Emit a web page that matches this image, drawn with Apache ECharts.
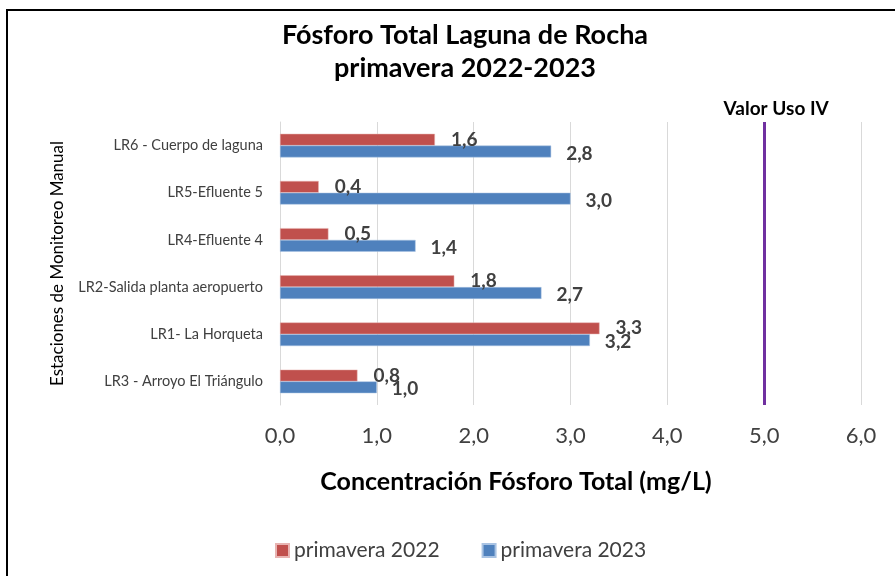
<!DOCTYPE html>
<html>
<head>
<meta charset="utf-8">
<title>Fósforo Total Laguna de Rocha</title>
<script src="https://cdn.jsdelivr.net/npm/echarts@6/dist/echarts.min.js"></script>
<style>
  html, body { margin: 0; padding: 0; background: #fff; }
  #chart { width: 895px; height: 576px; }
</style>
</head>
<body>
<div id="chart"></div>
<script>
// estaciones, de abajo hacia arriba
const stations = [
  'LR3 - Arroyo El Triángulo',
  'LR1- La Horqueta',
  'LR2-Salida planta aeropuerto',
  'LR4-Efluente 4',
  'LR5-Efluente 5',
  'LR6 - Cuerpo de laguna'
]
const spring2022 = [0.8, 3.3, 1.8, 0.5, 0.4, 1.6]
const spring2023 = [1.0, 3.2, 2.7, 1.4, 3.0, 2.8]
const usoIV = 5.0

const font = 'Lato, "Open Sans", sans-serif'
const comma = v => v.toFixed(1).replace('.', ',')

const chart = echarts.init(document.getElementById('chart'))
chart.setOption({
  backgroundColor: '#fff',
  textStyle: { fontFamily: font },
  title: [
    {
      text: 'Fósforo Total Laguna de Rocha\nprimavera 2022-2023',
      left: 460,
      top: 14,
      textAlign: 'center',
      textStyle: { fontSize: 27, fontWeight: 'bold', color: '#000', lineHeight: 33, fontFamily: font }
    },
    {
      text: 'Concentración Fósforo Total (mg/L)',
      left: 511,
      top: 464,
      textAlign: 'center',
      textStyle: { fontSize: 25, fontWeight: 'bold', color: '#000', fontFamily: font }
    }
  ],
  legend: {
    top: 535,
    left: 270,
    itemWidth: 13,
    itemHeight: 13,
    itemGap: 42,
    icon: 'rect',
    textStyle: { fontSize: 21, color: '#404040', fontFamily: font },
    data: ['primavera 2022', 'primavera 2023']
  },
  grid: { left: 280, right: 34, top: 122, bottom: 171 },
  xAxis: {
    type: 'value',
    min: 0,
    max: 6,
    interval: 1,
    axisLine: { show: false },
    axisTick: { show: false },
    axisLabel: { fontSize: 22, color: '#404040', margin: 20, formatter: comma },
    splitLine: { lineStyle: { color: '#d9d9d9' } }
  },
  yAxis: {
    type: 'category',
    data: stations,
    name: 'Estaciones de Monitoreo Manual',
    nameLocation: 'middle',
    nameGap: 214,
    nameTextStyle: { fontSize: 17, color: '#000' },
    axisLine: { lineStyle: { color: '#d9d9d9' } },
    axisTick: { show: false },
    axisLabel: { fontSize: 14.5, color: '#404040', margin: 17 }
  },
  series: [
    {
      name: 'primavera 2022',
      type: 'bar',
      data: spring2022,
      barCategoryGap: '50%',
      barGap: '0%',
      itemStyle: { color: '#c0504d', borderColor: '#e8b4b2', borderWidth: 0.5 },
      label: {
        show: true,
        position: 'right',
        distance: 16,
        fontSize: 19,
        fontWeight: 'bold',
        color: '#404040',
        formatter: p => comma(p.value)
      }
    },
    {
      name: 'primavera 2023',
      type: 'bar',
      data: spring2023,
      itemStyle: { color: '#4f81bd', borderColor: '#a9c3e3', borderWidth: 0.5 },
      label: {
        show: true,
        position: 'right',
        distance: 15,
        offset: [0, 2],
        fontSize: 19,
        fontWeight: 'bold',
        color: '#404040',
        formatter: p => comma(p.value)
      },
      markLine: {
        silent: true,
        symbol: 'none',
        lineStyle: { color: '#7030a0', width: 3, type: 'solid' },
        label: {
          show: true,
          position: 'end',
          formatter: 'Valor Uso IV',
          fontSize: 19,
          fontWeight: 'bold',
          color: '#000',
          distance: 4,
          offset: [12, 0]
        },
        data: [{ xAxis: usoIV }]
      }
    }
  ],
  graphic: [
    {
      type: 'rect',
      shape: { x: 7, y: 10, width: 900, height: 600 },
      style: { fill: 'none', stroke: '#000', lineWidth: 2 },
      silent: true
    }
  ]
})
</script>
</body>
</html>
